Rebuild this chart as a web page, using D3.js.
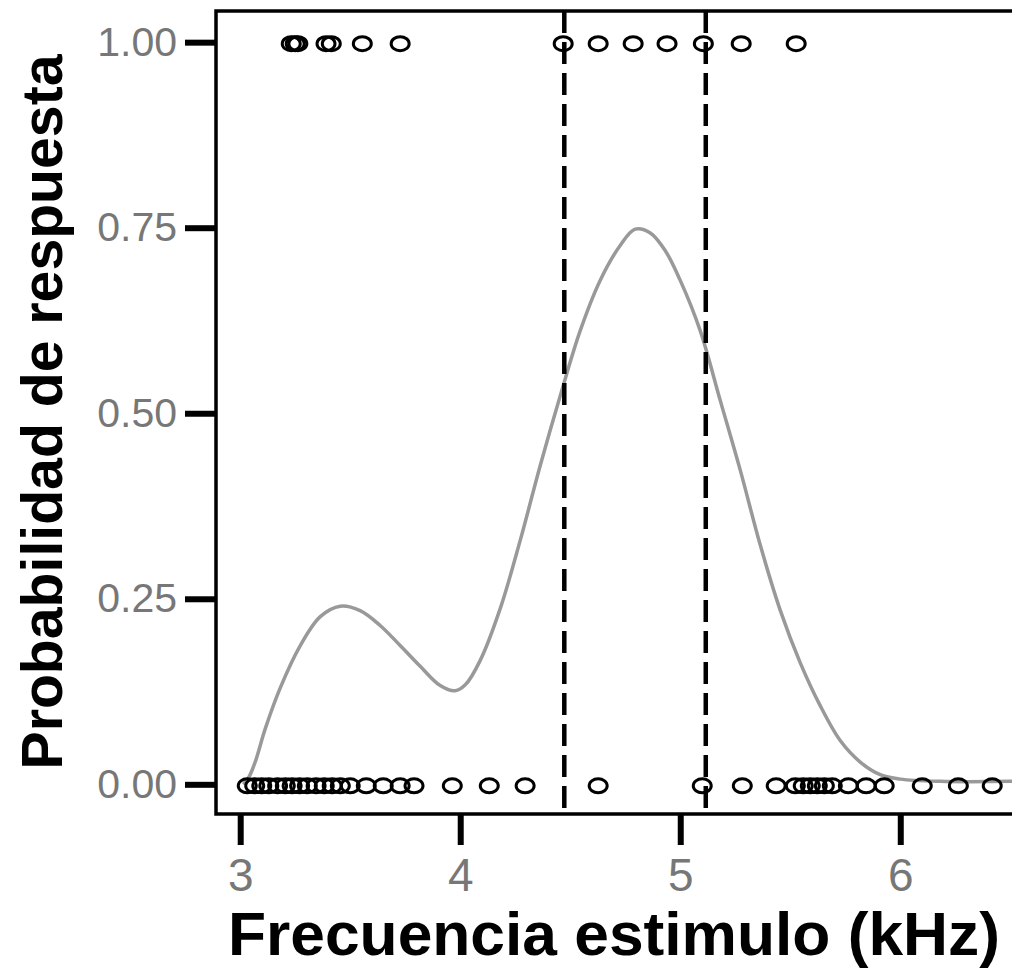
<!DOCTYPE html>
<html lang="es">
<head>
    <meta charset="UTF-8">
    <title>Probabilidad de respuesta</title>
    <script src="https://cdn.jsdelivr.net/npm/d3@7"></script>
    <style>
        body { margin: 0; background: #fff; }
        svg { display: block; }
    </style>
</head>
<body>
<svg width="1012" height="976"></svg>
<script>
    // ticks
    var xTicks = [3, 4, 5, 6];
    var yTicks = [0, 0.25, 0.5, 0.75, 1];

    // frequencies (kHz) of stimuli with response (1) and without (0)
    var respondedFreq = [3.232, 3.25, 3.262, 3.39, 3.414, 3.555, 3.727,
        4.468, 4.627, 4.786, 4.94, 5.105, 5.277, 5.527];
    var silentFreq = [3.032, 3.066, 3.098, 3.13, 3.17, 3.205, 3.236, 3.27,
        3.305, 3.345, 3.382, 3.418, 3.455, 3.5, 3.573, 3.65, 3.727, 3.79,
        3.964, 4.132, 4.295, 4.627, 5.1, 5.282, 5.436, 5.523, 5.559, 5.591,
        5.623, 5.655, 5.691, 5.764, 5.845, 5.927, 6.1, 6.264, 6.418];

    // smoothed response curve
    var curveFreq = [3.014, 3.04, 3.068, 3.114, 3.182, 3.273, 3.364, 3.455, 3.545,
        3.636, 3.727, 3.818, 3.909, 3.977, 4.023, 4.091, 4.182, 4.273, 4.364,
        4.455, 4.545, 4.636, 4.727, 4.795, 4.864, 4.932, 5.0, 5.091, 5.182,
        5.273, 5.364, 5.455, 5.545, 5.636, 5.727, 5.818, 5.909, 6.0, 6.182, 6.52];
    var curveProb = [0.0, 0.01, 0.03, 0.075, 0.13, 0.187, 0.226, 0.24, 0.234,
        0.214, 0.187, 0.159, 0.133, 0.126, 0.134, 0.167, 0.237, 0.329, 0.43,
        0.524, 0.611, 0.679, 0.726, 0.748, 0.743, 0.719, 0.679, 0.611, 0.517,
        0.423, 0.322, 0.234, 0.164, 0.106, 0.059, 0.03, 0.013, 0.007, 0.004, 0.004];

    // dashed cut-off lines (kHz)
    var cutoffs = [4.473, 5.116];

    var svg = d3.select("svg");
    var plotLeft = 216, plotRight = 1016, plotTop = 11, plotBottom = 814;

    var x = d3.scaleLinear().domain([2.89, 6.526]).range([plotLeft, plotRight]);
    var y = d3.scaleLinear().domain([-0.04, 1.042]).range([plotBottom, plotTop]);

    // curve under everything
    var line = d3.line()
        .x(function (d) { return x(d[0]); })
        .y(function (d) { return y(d[1]); })
        .curve(d3.curveCatmullRom);

    svg.append("path")
        .datum(d3.zip(curveFreq, curveProb))
        .attr("d", line)
        .attr("fill", "none")
        .attr("stroke", "#999")
        .attr("stroke-width", 3.5);

    // cut-off lines
    svg.selectAll(".cut")
        .data(cutoffs)
        .enter().append("line")
        .attr("class", "cut")
        .attr("x1", function (d) { return x(d); })
        .attr("x2", function (d) { return x(d); })
        .attr("y1", plotTop)
        .attr("y2", plotBottom)
        .attr("stroke", "#000")
        .attr("stroke-width", 4.5)
        .attr("stroke-dasharray", "22,9");

    // points
    var pts = respondedFreq.map(function (f) { return [f, 1]; })
        .concat(silentFreq.map(function (f) { return [f, 0]; }));

    svg.selectAll(".pt")
        .data(pts)
        .enter().append("ellipse")
        .attr("class", "pt")
        .attr("cx", function (d) { return x(d[0]); })
        .attr("cy", function (d) { return y(d[1]) + 1.5; })
        .attr("rx", 9)
        .attr("ry", 7)
        .attr("fill", "none")
        .attr("stroke", "#000")
        .attr("stroke-width", 3);

    // frame
    svg.append("rect")
        .attr("x", plotLeft)
        .attr("y", plotTop)
        .attr("width", plotRight - plotLeft)
        .attr("height", plotBottom - plotTop)
        .attr("fill", "none")
        .attr("stroke", "#000")
        .attr("stroke-width", 3.5);

    // axes
    var yAxis = svg.append("g")
        .attr("transform", "translate(" + plotLeft + ",0)")
        .call(d3.axisLeft(y).tickValues(yTicks).tickFormat(d3.format(".2f"))
            .tickSize(31).tickPadding(8));
    yAxis.select(".domain").remove();
    yAxis.selectAll("line").attr("stroke", "#000").attr("stroke-width", 6);
    yAxis.selectAll("text")
        .attr("fill", "#777")
        .style("font-family", "Liberation Sans, Arial, sans-serif")
        .style("font-size", "41px");

    var xAxis = svg.append("g")
        .attr("transform", "translate(0," + plotBottom + ")")
        .call(d3.axisBottom(x).tickValues(xTicks).tickFormat(d3.format("d"))
            .tickSize(31).tickPadding(13));
    xAxis.select(".domain").remove();
    xAxis.selectAll("line").attr("stroke", "#000").attr("stroke-width", 6);
    xAxis.selectAll("text")
        .attr("fill", "#777")
        .style("font-family", "Liberation Sans, Arial, sans-serif")
        .style("font-size", "46px");

    // titles
    svg.append("text")
        .attr("x", 614)
        .attr("y", 955)
        .attr("text-anchor", "middle")
        .attr("textLength", 772)
        .attr("lengthAdjust", "spacingAndGlyphs")
        .style("font-family", "Liberation Sans, Arial, sans-serif")
        .style("font-weight", "bold")
        .style("font-size", "62px")
        .text("Frecuencia estimulo (kHz)");

    svg.append("text")
        .attr("transform", "translate(62,412) rotate(-90)")
        .attr("text-anchor", "middle")
        .attr("textLength", 715)
        .attr("lengthAdjust", "spacingAndGlyphs")
        .style("font-family", "Liberation Sans, Arial, sans-serif")
        .style("font-weight", "bold")
        .style("font-size", "58px")
        .text("Probabilidad de respuesta");
</script>
</body>
</html>
